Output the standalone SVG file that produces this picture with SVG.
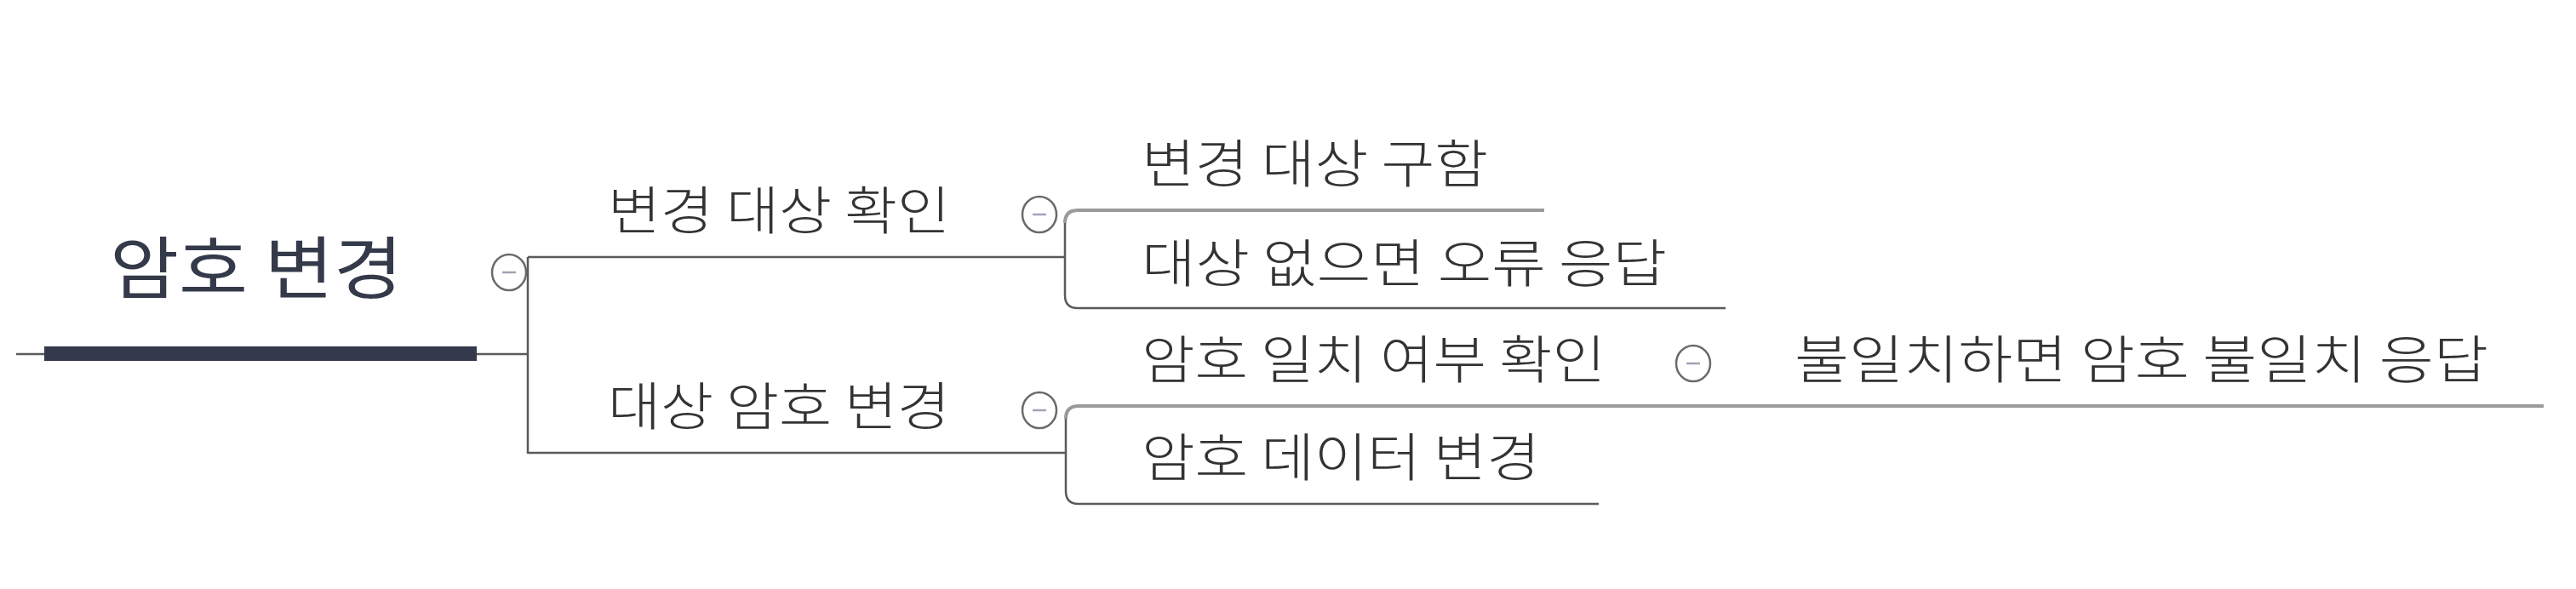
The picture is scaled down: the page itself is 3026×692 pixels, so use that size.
<svg xmlns="http://www.w3.org/2000/svg" width="3026" height="692" viewBox="0 0 3026 692">
<style>
text{font-family:"Noto Sans CJK KR","Noto Sans",sans-serif;fill:#333;font-weight:300}
.root{font-size:80px;fill:#353a4a;font-weight:400}
.t{font-size:61px}
.ln{fill:none;stroke:#5a5a5a;stroke-width:2.5}
.lt{fill:none;stroke:#9a9a9a;stroke-width:4}
.tg ellipse{fill:#fff;stroke:#6a6a6a;stroke-width:2.5}
.tg line{stroke:#a0a4b4;stroke-width:2.5}
</style>
<rect width="3026" height="692" fill="#fff"/>
<g id="connectors">
<line class="ln" x1="19" y1="416" x2="52" y2="416"/>
<line class="ln" x1="560" y1="416" x2="620" y2="416"/>
<path class="ln" d="M620 302 V533"/>
<path class="ln" d="M620 302 H1251"/>
<path class="ln" d="M620 532 H1251"/>
<path class="lt" d="M1814 247 H1266 Q1251 247 1251 262"/>
<path class="ln" d="M1251 262 V347 Q1251 362 1266 362 H2027"/>
<path class="lt" d="M2988 477 H1267 Q1252 477 1252 492"/>
<path class="ln" d="M1252 492 V577 Q1252 592 1267 592 H1878"/>
</g>
<g id="root">
<rect x="52" y="407" width="508" height="17" fill="#343a4c"/>
<text class="root" x="129" y="344" textLength="344" lengthAdjust="spacingAndGlyphs">암호 변경</text>
<g class="tg"><ellipse cx="598" cy="320" rx="20" ry="21"/><line x1="590" y1="320" x2="606" y2="320"/></g>
</g>
<g id="n1">
<text class="t" x="714" y="270" textLength="402" lengthAdjust="spacingAndGlyphs">변경 대상 확인</text>
<g class="tg"><ellipse cx="1221" cy="252" rx="20" ry="21"/><line x1="1213" y1="252" x2="1229" y2="252"/></g>
</g>
<g id="n2">
<text class="t" x="714" y="500" textLength="402" lengthAdjust="spacingAndGlyphs">대상 암호 변경</text>
<g class="tg"><ellipse cx="1221" cy="482" rx="20" ry="21"/><line x1="1213" y1="482" x2="1229" y2="482"/></g>
</g>
<g id="n11"><text class="t" x="1341" y="215" textLength="407" lengthAdjust="spacingAndGlyphs">변경 대상 구함</text></g>
<g id="n12"><text class="t" x="1341" y="332" textLength="617" lengthAdjust="spacingAndGlyphs">대상 없으면 오류 응답</text></g>
<g id="n21">
<text class="t" x="1341" y="445" textLength="545" lengthAdjust="spacingAndGlyphs">암호 일치 여부 확인</text>
<g class="tg"><ellipse cx="1989" cy="427" rx="20" ry="21"/><line x1="1981" y1="427" x2="1997" y2="427"/></g>
</g>
<g id="n211"><text class="t" x="2108" y="445" textLength="815" lengthAdjust="spacingAndGlyphs">불일치하면 암호 불일치 응답</text></g>
<g id="n22"><text class="t" x="1341" y="560" textLength="468" lengthAdjust="spacingAndGlyphs">암호 데이터 변경</text></g>
</svg>
